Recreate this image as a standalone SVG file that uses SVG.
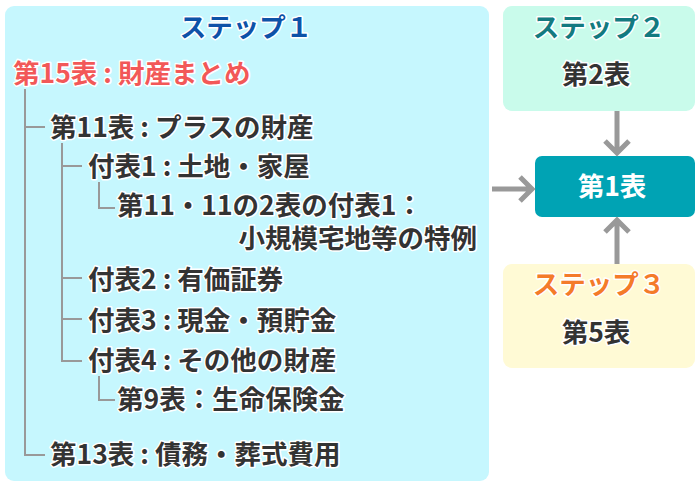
<svg xmlns="http://www.w3.org/2000/svg" width="700" height="490" viewBox="0 0 700 490">
<style>
text{font-family:"Noto Sans CJK JP","Noto Sans",sans-serif;font-weight:bold;font-size:26.5px;paint-order:stroke;stroke:#fff;stroke-width:3px;stroke-linejoin:round}
.t{fill:#333}
.c{text-anchor:middle}
.w{fill:#fff;stroke:none}
.tree{fill:none;stroke:#999;stroke-width:2}
.arr{fill:none;stroke:#999;stroke-width:5;stroke-linecap:butt}
</style>
<g id="step1">
<rect x="5" y="6" width="484" height="475" rx="9" fill="#c6f7fe"/>
<text x="246" y="37" class="c" fill="#0d52a8">ステップ１</text>
<text x="13" y="83" fill="#f25858">第15表 : 財産まとめ</text>
<text x="50" y="137" class="t">第11表 : プラスの財産</text>
<text x="88" y="176" class="t">付表1 : 土地・家屋</text>
<text x="117" y="215" class="t">第11・11の2表の付表1：</text>
<text x="477" y="248" class="t" text-anchor="end">小規模宅地等の特例</text>
<text x="88" y="289" class="t">付表2 : 有価証券</text>
<text x="88" y="330" class="t">付表3 : 現金・預貯金</text>
<text x="88" y="370" class="t">付表4 : その他の財産</text>
<text x="117" y="409" class="t">第9表：生命保険金</text>
<text x="50" y="464" class="t">第13表 : 債務・葬式費用</text>
</g>
<g id="tree" class="tree">
<path d="M25 89V455H45M25 127H45"/>
<path d="M62 143V361H82M62 166H82M62 278H82M62 319H82"/>
<path d="M99 182V208H115M99 376V400H115"/>
</g>
<g id="step2">
<rect x="503" y="6" width="192" height="105" rx="9" fill="#c9fbeb"/>
<text x="599" y="37" class="c" fill="#137a80">ステップ２</text>
<text x="596" y="84" class="c t">第2表</text>
</g>
<g id="table1">
<rect x="535" y="156" width="160" height="61" rx="7" fill="#00a3b4"/>
<text x="612" y="196" class="c w">第1表</text>
</g>
<g id="step3">
<rect x="503" y="264" width="192" height="104" rx="9" fill="#fffad5"/>
<text x="599" y="294" class="c" fill="#f47b2a">ステップ３</text>
<text x="596" y="342" class="c t">第5表</text>
</g>
<g id="connectors" class="arr">
<path d="M617 111V153M605 141L617 153L629 141"/>
<path d="M492 189H532M520 177L532 189L520 201"/>
<path d="M617 264V220M605 232L617 220L629 232"/>
</g>
</svg>
